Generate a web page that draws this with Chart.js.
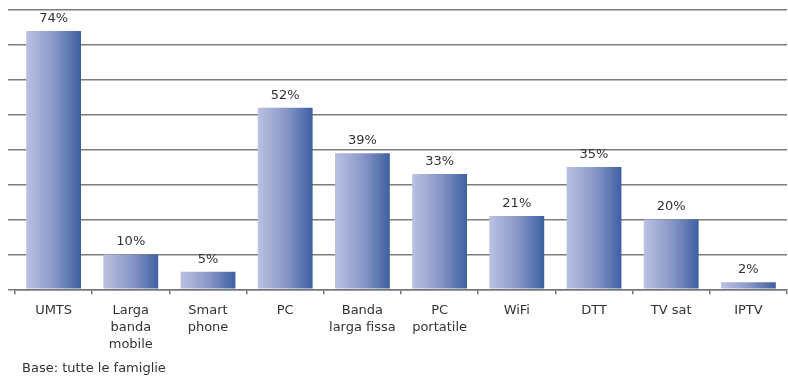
<!DOCTYPE html>
<html>
<head>
<meta charset="utf-8">
<script src="https://cdn.jsdelivr.net/npm/chart.js@4"></script>
<style>
  html, body { margin: 0; padding: 0; background: #fff; }
  #wrap { width: 788px; height: 380px; position: relative; }
</style>
</head>
<body>
<div id="wrap"><canvas id="myChart"></canvas></div>
<script>
const categories = [['UMTS'], ['Larga', 'banda', 'mobile'], ['Smart', 'phone'], ['PC'], ['Banda', 'larga fissa'],
    ['PC', 'portatile'], ['WiFi'], ['DTT'], ['TV sat'], ['IPTV']];
const shares = [74, 10, 5, 52, 39, 33, 21, 35, 20, 2];
const footnote = 'Base: tutte le famiglie';

const FONT = '"DejaVu Sans", Verdana, sans-serif';
const BAR_PCT = 0.71;

// horizontal gradient per bar, light on the left, blue on the right
function barFill(c) {
    const chart = c.chart;
    const xs = chart.scales && chart.scales.x;
    if (!xs || !chart.chartArea || c.dataIndex === undefined) return '#7f8fc4';
    const cx = xs.getPixelForValue(c.dataIndex);
    const half = xs.width / categories.length * BAR_PCT / 2;
    const g = chart.ctx.createLinearGradient(cx - half, 0, cx + half, 0);
    g.addColorStop(0, '#bac1e1');
    g.addColorStop(0.5, '#8a98c9');
    g.addColorStop(0.97, '#4264a4');
    g.addColorStop(1, '#3b5c9c');
    return g;
}

const valueLabels = {
    id: 'valueLabels',
    afterDatasetsDraw(chart) {
        const ctx = chart.ctx;
        ctx.save();
        ctx.font = '13px ' + FONT;
        ctx.fillStyle = '#333';
        ctx.textAlign = 'center';
        ctx.textBaseline = 'bottom';
        chart.getDatasetMeta(0).data.forEach((bar, i) => {
            ctx.fillText(shares[i] + '%', bar.x, bar.y - 6);
        });
        ctx.textAlign = 'left';
        ctx.textBaseline = 'middle';
        ctx.fillText(footnote, 22, 369);
        ctx.restore();
    }
};

const myChart = new Chart(document.getElementById('myChart'), {
    type: 'bar',
    data: {
        labels: categories,
        datasets: [{
            data: shares,
            backgroundColor: barFill,
            borderWidth: 0,
            barPercentage: BAR_PCT,
            categoryPercentage: 1
        }]
    },
    options: {
        responsive: true,
        maintainAspectRatio: false,
        animation: false,
        layout: { padding: { left: 8, right: 1, top: 10, bottom: 19 } },
        plugins: { legend: { display: false }, tooltip: { enabled: false } },
        scales: {
            x: {
                grid: {
                    offset: true,
                    drawOnChartArea: false,
                    drawTicks: true,
                    tickLength: 5,
                    color: '#777',
                    lineWidth: 1.5
                },
                border: { display: true, color: '#777', width: 1.5 },
                ticks: {
                    color: '#333',
                    font: { family: FONT, size: 13, lineHeight: 1.3 },
                    padding: 8,
                    maxRotation: 0,
                    autoSkip: false
                }
            },
            y: {
                min: 0,
                max: 80,
                ticks: { stepSize: 10, display: false },
                grid: {
                    color: '#7c7c7c',
                    lineWidth: 1.5,
                    drawTicks: true,
                    tickLength: 7
                },
                border: { display: false }
            }
        }
    },
    plugins: [valueLabels]
});
</script>
</body>
</html>
